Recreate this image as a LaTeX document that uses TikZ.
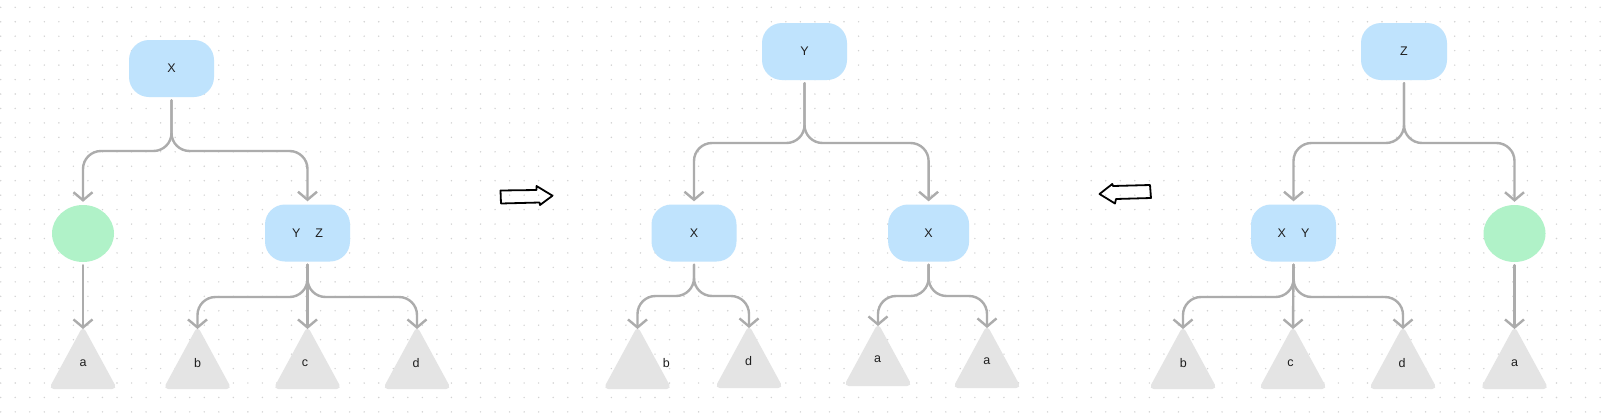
\documentclass[tikz,border=0pt]{standalone}
\usepackage{fontspec}
\setmainfont{Liberation Sans}
\usetikzlibrary{arrows.meta,shapes.geometric}
\definecolor{boxblue}{RGB}{191,227,253}
\definecolor{leafgreen}{RGB}{176,242,200}
\definecolor{trigray}{RGB}{228,228,228}
\definecolor{conngray}{RGB}{172,172,172}
\definecolor{dotc}{RGB}{210,210,210}
\definecolor{inkc}{RGB}{30,30,30}
\newcommand{\mytri}[4]{\fill[trigray,rounded corners=5pt] ({#1},{#2-6}) -- ({#1+#4+3.2},{#3}) -- ({#1-#4-3.2},{#3}) -- cycle;}
\begin{document}
\begin{tikzpicture}[x=1pt,y=-1pt,
  bx/.style={fill=boxblue,rounded corners=20pt,minimum height=57pt,inner sep=0pt,text=inkc,font=\fontsize{12.5}{15}\selectfont},
  leaf/.style={ellipse,fill=leafgreen,minimum width=62pt,minimum height=57pt,inner sep=0pt},
  lab/.style={inner sep=0pt,text=inkc,font=\fontsize{12.5}{15}\selectfont},
  conn/.style={draw=conngray,line width=2.4pt,line cap=round,rounded corners=18pt,shorten <=3pt,shorten >=3pt,-{Straight Barb[length=8pt,width=19pt]}},
  hollow/.style={draw=black,line width=1.8pt,line join=round}]
\useasboundingbox (0,0) rectangle (1604,413);
\fill[white] (0,0) rectangle (1604,413);
\foreach \i in {0,...,110}{\foreach \j in {0,...,28}{\fill[dotc] ({0.7+\i*14.54},{7.3+\j*14.45}) circle (0.8pt);}}

% ---------- left tree ----------
\node[bx,minimum width=85pt] (LX) at (171.5,68.5) {X};
\node[leaf] (Lg) at (83,233.5) {};
\node[bx,minimum width=85pt] (LYZ) at (307.5,233) {Y\hspace{15pt}Z};
\mytri{83}{332}{389}{31}
\mytri{197.5}{332}{389}{31}
\mytri{307.5}{332}{389}{31}
\mytri{417}{332}{389}{31}
\coordinate (La) at (83,332);
\coordinate (Lb) at (197.5,332);
\coordinate (Lc) at (307.5,332);
\coordinate (Ld) at (417,332);
\node[lab] (tLa) at (83,363) {a};
\node[lab] (tLb) at (197.5,363) {b};
\node[lab] (tLc) at (305,363) {c};
\node[lab] (tLd) at (416,363) {d};
\coordinate (Lf1) at (0,151);
\coordinate (Lf2) at (0,297);
\draw[conn] (LX.south) -- (LX.south |- Lf1) -- (Lg.north |- Lf1) -- (Lg.north);
\draw[conn] (LX.south) -- (LX.south |- Lf1) -- (LYZ.north |- Lf1) -- (LYZ.north);
\draw[conn] (Lg.south) -- (La);
\draw[conn] (LYZ.south) -- (LYZ.south |- Lf2) -- (Lb |- Lf2) -- (Lb);
\draw[conn] (LYZ.south) -- (LYZ.south |- Lf2) -- (Ld |- Lf2) -- (Ld);
\draw[conn] (LYZ.south) -- (Lc);

% ---------- right-pointing hollow arrow ----------
\coordinate (HA1) at (500.5,190.5);
\draw[hollow] (HA1) -- (536.5,190) -- (536.5,186) -- (552.5,195.7) -- (540,205) -- (539.5,202.5) -- (501,203.5) -- cycle;

% ---------- middle tree ----------
\node[bx,minimum width=85pt] (MY) at (804.5,51.5) {Y};
\node[bx,minimum width=85pt] (MXl) at (694,233) {X};
\node[bx,minimum width=81pt] (MXr) at (928.6,233) {X};
\mytri{637.5}{332}{389}{31}
\mytri{749}{331}{388}{31}
\mytri{878}{329}{386}{31}
\mytri{987}{331}{388}{31}
\coordinate (Mb) at (637.5,332);
\coordinate (Md) at (749,331);
\coordinate (Ma1) at (878,329);
\coordinate (Ma2) at (987,331);
\node[lab] (tMb) at (666.4,363) {b};
\node[lab] (tMd) at (748.6,361) {d};
\node[lab] (tMa1) at (877.5,359) {a};
\node[lab] (tMa2) at (986.8,361) {a};
\coordinate (Mf1) at (0,143);
\coordinate (Mf2) at (0,296);
\draw[conn] (MY.south) -- (MY.south |- Mf1) -- (MXl.north |- Mf1) -- (MXl.north);
\draw[conn] (MY.south) -- (MY.south |- Mf1) -- (MXr.north |- Mf1) -- (MXr.north);
\draw[conn] (MXl.south) -- (MXl.south |- Mf2) -- (Mb |- Mf2) -- (Mb);
\draw[conn] (MXl.south) -- (MXl.south |- Mf2) -- (Md |- Mf2) -- (Md);
\draw[conn] (MXr.south) -- (MXr.south |- Mf2) -- (Ma1 |- Mf2) -- (Ma1);
\draw[conn] (MXr.south) -- (MXr.south |- Mf2) -- (Ma2 |- Mf2) -- (Ma2);

% ---------- left-pointing hollow arrow ----------
\coordinate (HB1) at (1099.5,194);
\draw[hollow] (HB1) -- (1112.3,184) -- (1113,186) -- (1150,185) -- (1151,198) -- (1116,199) -- (1115,203.5) -- cycle;

% ---------- right tree ----------
\node[bx,minimum width=86pt] (RZ) at (1404,51.5) {Z};
\node[bx,minimum width=85pt] (RXY) at (1293.5,233) {X\hspace{15pt}Y};
\node[leaf] (Rg) at (1514.5,233.5) {};
\mytri{1183}{332}{389}{31}
\mytri{1293}{332}{389}{31}
\mytri{1403}{332}{389}{31}
\mytri{1514.5}{332}{389}{31}
\coordinate (Rb) at (1183,332);
\coordinate (Rc) at (1293,332);
\coordinate (Rd) at (1403,332);
\coordinate (Ra) at (1514.5,332);
\node[lab] (tRb) at (1183.3,363) {b};
\node[lab] (tRc) at (1290.5,363) {c};
\node[lab] (tRd) at (1402,363) {d};
\node[lab] (tRa) at (1514.7,363) {a};
\coordinate (Rf1) at (0,143);
\coordinate (Rf2) at (0,297);
\draw[conn] (RZ.south) -- (RZ.south |- Rf1) -- (RXY.north |- Rf1) -- (RXY.north);
\draw[conn] (RZ.south) -- (RZ.south |- Rf1) -- (Rg.north |- Rf1) -- (Rg.north);
\draw[conn] (RXY.south) -- (RXY.south |- Rf2) -- (Rb |- Rf2) -- (Rb);
\draw[conn] (RXY.south) -- (RXY.south |- Rf2) -- (Rd |- Rf2) -- (Rd);
\draw[conn] (RXY.south) -- (Rc);
\draw[conn] (Rg.south) -- (Ra);
\end{tikzpicture}
\end{document}
